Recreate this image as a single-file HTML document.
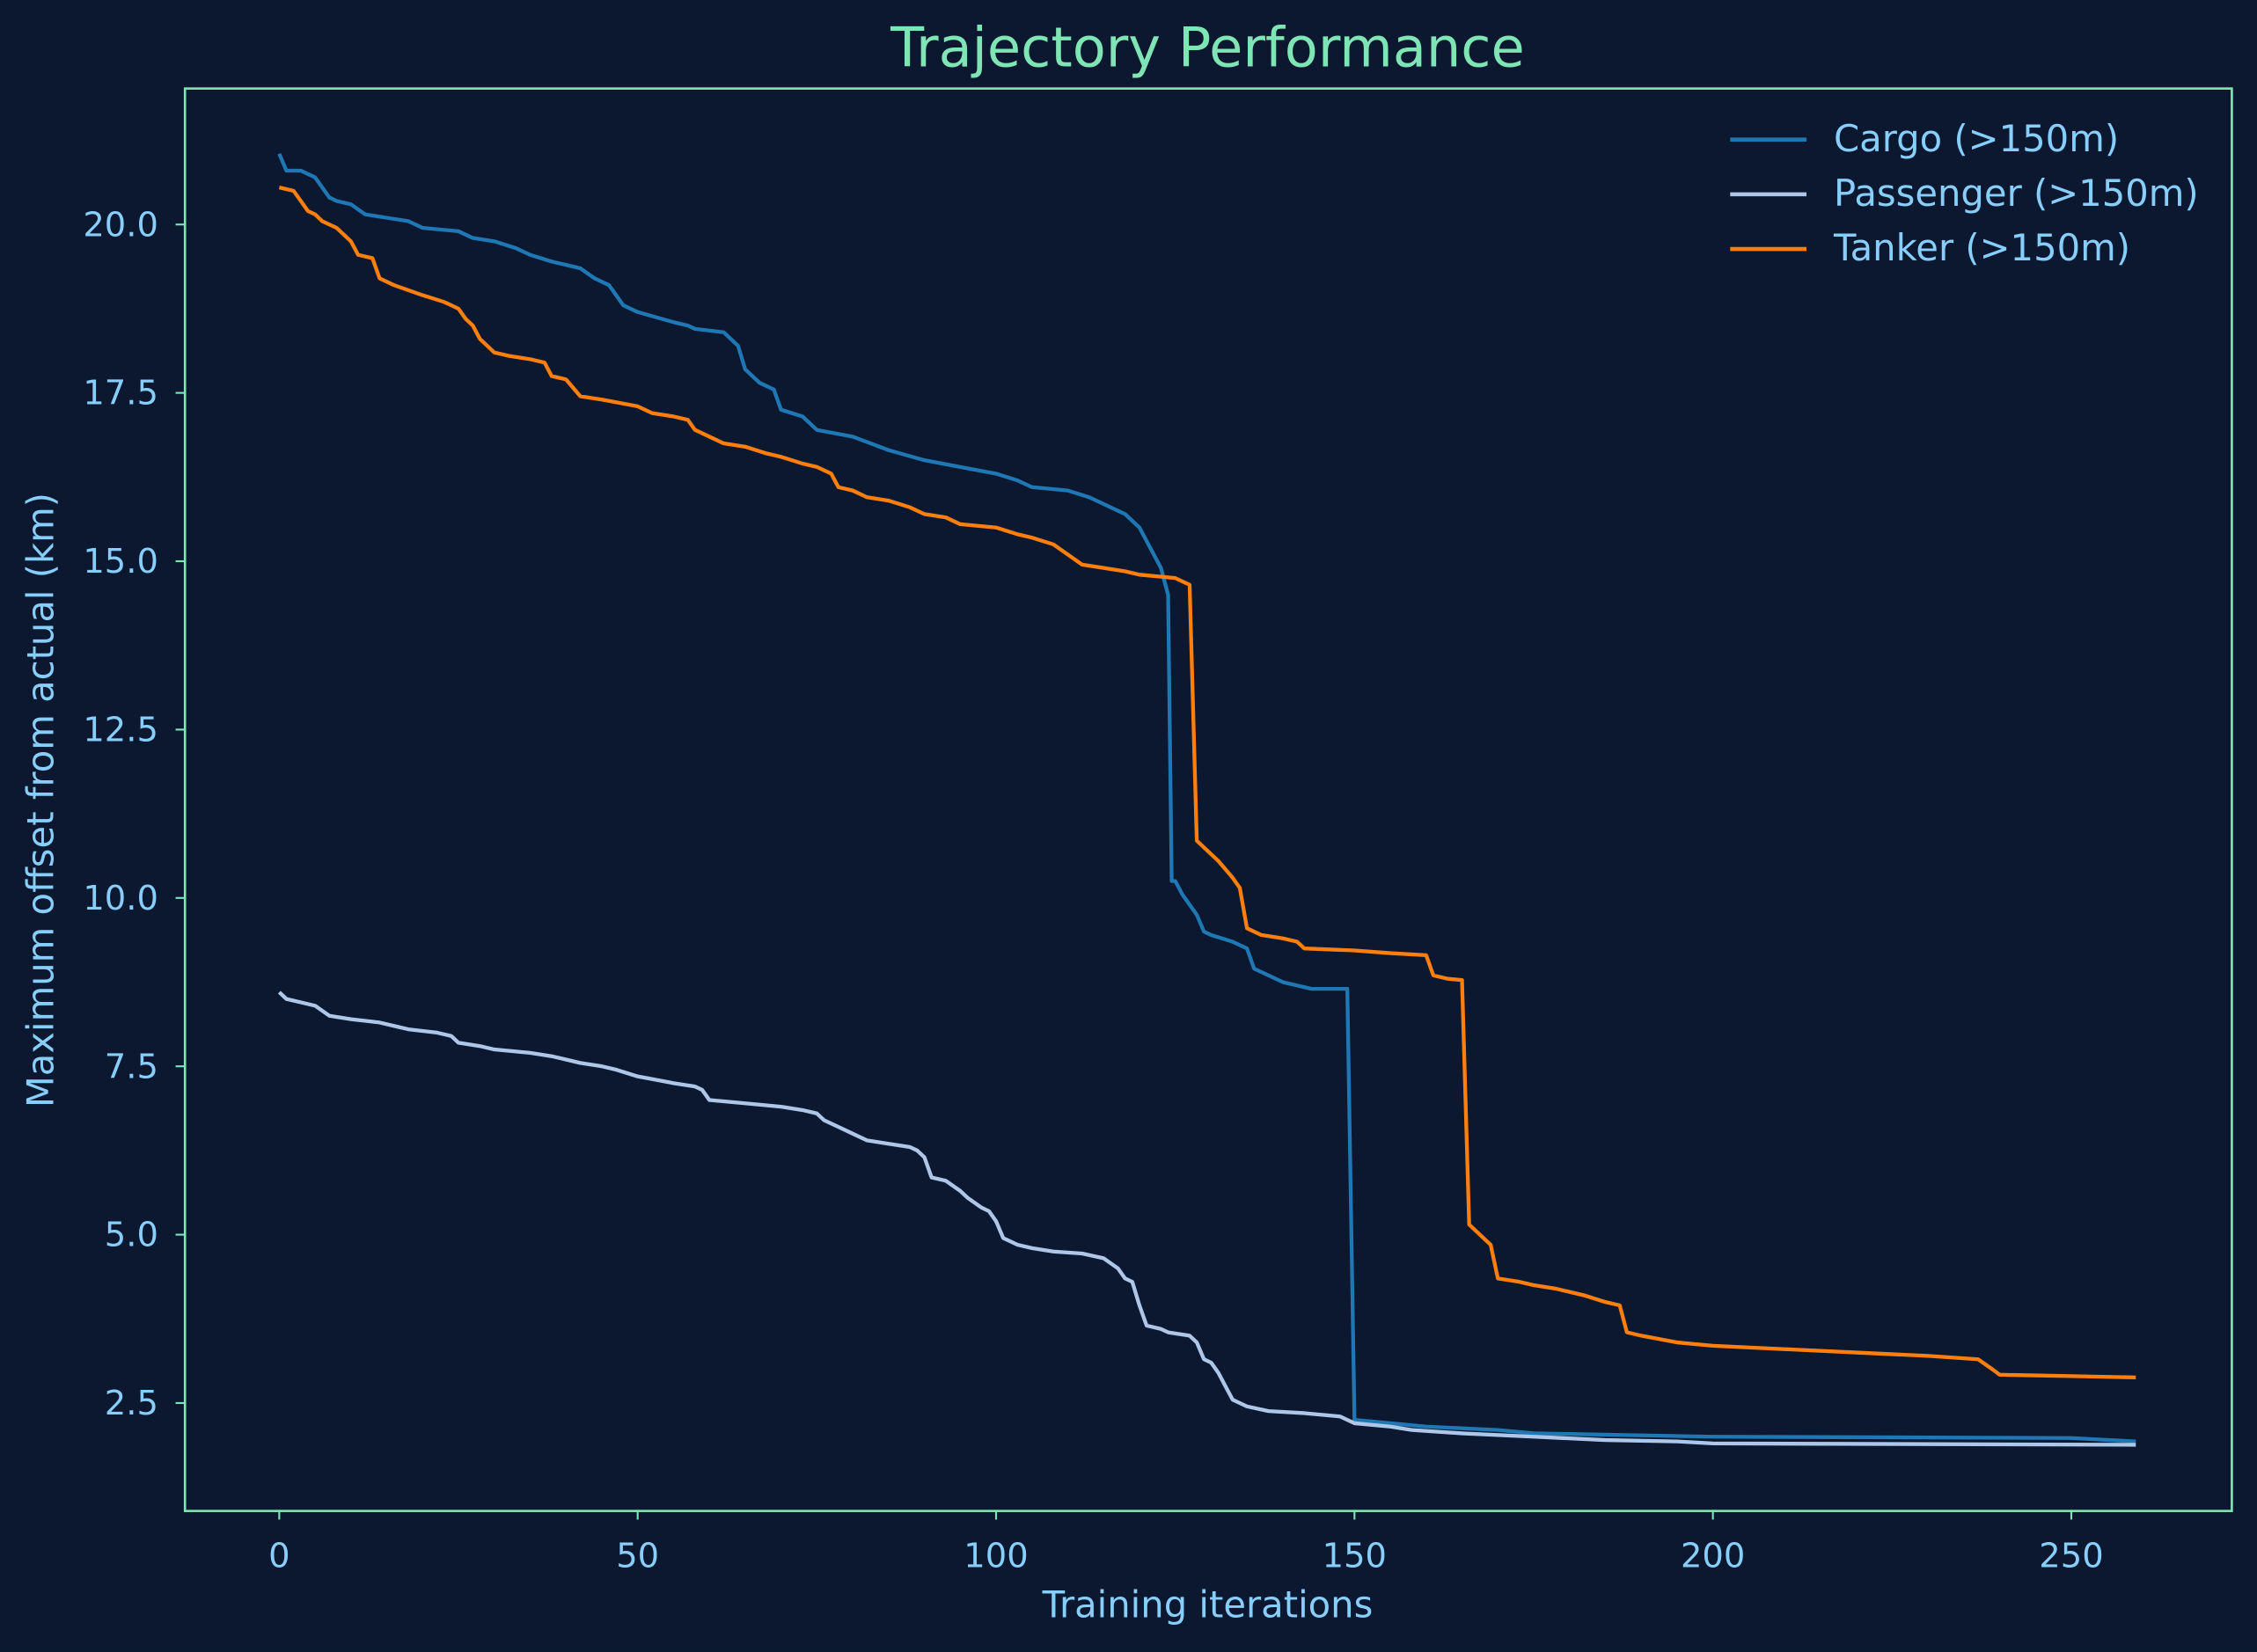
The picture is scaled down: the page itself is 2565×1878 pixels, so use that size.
<!DOCTYPE html>
<html><head><style>html,body{margin:0;padding:0;background:#0b1830;}svg{display:block}</style></head>
<body>
<svg width="2565" height="1878" viewBox="0 0 1568 1148" xmlns="http://www.w3.org/2000/svg" font-family="DejaVu Sans, Liberation Sans, sans-serif">
<rect x="0" y="0" width="1568" height="1148" fill="#0b1830"/>
<text x="839" y="46" text-anchor="middle" font-size="38" fill="#7fe5b5">Trajectory Performance</text>
<g fill="#87cefa" font-size="25.5">
<text x="839" y="1124" text-anchor="middle">Training iterations</text>
<text transform="translate(37,556) rotate(-90)" text-anchor="middle">Maximum offset from actual (km)</text>
</g>
<g stroke="#7fe5b5" stroke-width="1.3">
<line x1="194" y1="1050" x2="194" y2="1056"/><line x1="443" y1="1050" x2="443" y2="1056"/><line x1="692" y1="1050" x2="692" y2="1056"/><line x1="941" y1="1050" x2="941" y2="1056"/><line x1="1190" y1="1050" x2="1190" y2="1056"/><line x1="1439" y1="1050" x2="1439" y2="1056"/>
<line x1="122" y1="156" x2="128" y2="156"/><line x1="122" y1="273" x2="128" y2="273"/><line x1="122" y1="390" x2="128" y2="390"/><line x1="122" y1="507" x2="128" y2="507"/><line x1="122" y1="624" x2="128" y2="624"/><line x1="122" y1="741" x2="128" y2="741"/><line x1="122" y1="858" x2="128" y2="858"/><line x1="122" y1="975" x2="128" y2="975"/>
</g>
<g fill="#87cefa" font-size="23.5" text-anchor="middle">
<text x="194" y="1089">0</text><text x="443" y="1089">50</text><text x="692" y="1089">100</text><text x="941" y="1089">150</text><text x="1190" y="1089">200</text><text x="1439" y="1089">250</text>
</g>
<g fill="#87cefa" font-size="23.5" text-anchor="end">
<text x="110" y="164">20.0</text><text x="110" y="281">17.5</text><text x="110" y="398">15.0</text><text x="110" y="515">12.5</text><text x="110" y="632">10.0</text><text x="110" y="749">7.5</text><text x="110" y="866">5.0</text><text x="110" y="983">2.5</text>
</g>
<g transform="translate(194,1092) scale(4.98,-46.8)" fill="none" stroke-width="4.3" stroke-linejoin="round">
<polyline vector-effect="non-scaling-stroke" stroke="#1f77b4" points="0,21.05 1,20.8 3,20.8 5,20.7 7,20.4 8,20.35 10,20.3 12,20.15 15,20.1 18,20.05 20,19.95 25,19.9 27,19.8 30,19.75 33,19.65 35,19.55 38,19.45 40,19.4 42,19.35 44,19.2 46,19.1 48,18.8 50,18.7 55,18.55 57,18.5 58,18.45 62,18.4 64,18.2 65,17.85 67,17.65 69,17.55 70,17.25 73,17.15 75,16.95 80,16.85 85,16.65 90,16.5 95,16.4 100,16.3 103,16.2 105,16.1 110,16.05 113,15.95 115,15.85 118,15.7 120,15.5 121,15.3 122,15.1 123,14.9 124,14.5 124.5,10.25 125,10.25 126,10.05 128,9.75 129,9.5 130,9.45 133,9.35 135,9.25 136,8.95 138,8.85 140,8.75 142,8.7 144,8.65 149,8.65 150,2.25 155,2.2 160,2.15 170,2.1 175,2.05 200,2.0 250,1.98 259,1.93"/>
<polyline vector-effect="non-scaling-stroke" stroke="#aec7e8" points="0,8.6 1,8.5 3,8.45 5,8.4 7,8.25 10,8.2 14,8.15 16,8.1 18,8.05 22,8.0 24,7.95 25,7.85 28,7.8 30,7.75 35,7.7 38,7.65 40,7.6 42,7.55 45,7.5 47,7.45 50,7.35 55,7.25 58,7.2 59,7.15 60,7.0 65,6.95 70,6.9 73,6.85 75,6.8 76,6.7 78,6.6 80,6.5 82,6.4 85,6.35 88,6.3 89,6.25 90,6.15 91,5.85 93,5.8 95,5.65 96,5.55 98,5.4 99,5.35 100,5.2 101,4.95 103,4.85 105,4.8 108,4.75 112,4.72 115,4.65 117,4.5 118,4.35 119,4.3 120,3.95 121,3.65 123,3.6 124,3.55 127,3.5 128,3.4 129,3.15 130,3.1 131,2.95 132,2.75 133,2.55 135,2.45 138,2.38 143,2.35 148,2.3 150,2.2 155,2.15 158,2.1 165,2.05 175,2.0 185,1.95 195,1.93 200,1.9 259,1.88"/>
<polyline vector-effect="non-scaling-stroke" stroke="#ff7f0e" points="0,20.55 2,20.5 3,20.35 4,20.2 5,20.15 6,20.05 8,19.95 10,19.75 11,19.55 13,19.5 14,19.2 16,19.1 20,18.95 23,18.85 25,18.75 26,18.6 27,18.5 28,18.3 30,18.1 32,18.05 35,18.0 37,17.95 38,17.75 40,17.7 42,17.45 45,17.4 50,17.3 52,17.2 55,17.15 57,17.1 58,16.95 60,16.85 62,16.75 65,16.7 68,16.6 70,16.55 73,16.45 75,16.4 77,16.3 78,16.1 80,16.05 82,15.95 85,15.9 88,15.8 90,15.7 93,15.65 95,15.55 100,15.5 103,15.4 105,15.35 108,15.25 110,15.1 112,14.95 115,14.9 118,14.85 120,14.8 125,14.75 127,14.65 128,10.85 130,10.65 131,10.55 133,10.3 134,10.15 135,9.55 137,9.45 140,9.4 142,9.35 143,9.25 150,9.22 155,9.18 160,9.15 161,8.85 163,8.8 165,8.78 166,5.15 168,4.95 169,4.85 170,4.35 173,4.3 175,4.25 178,4.2 180,4.15 182,4.1 185,4.0 187,3.95 188,3.55 190,3.5 195,3.4 200,3.35 210,3.3 220,3.25 230,3.2 237,3.15 239,3.0 240,2.92 250,2.9 259,2.88"/>
</g>
<rect x="128.5" y="61.5" width="1422" height="988.5" fill="none" stroke="#7fe5b5" stroke-width="1.6"/>
<g stroke-width="2.8">
<line x1="1202" y1="97" x2="1255" y2="97" stroke="#1f77b4"/>
<line x1="1202" y1="135" x2="1255" y2="135" stroke="#aec7e8"/>
<line x1="1202" y1="173" x2="1255" y2="173" stroke="#ff7f0e"/>
</g>
<g fill="#87cefa" font-size="25.5">
<text x="1274" y="105">Cargo (&gt;150m)</text>
<text x="1274" y="143">Passenger (&gt;150m)</text>
<text x="1274" y="181">Tanker (&gt;150m)</text>
</g>
</svg>
</body></html>
